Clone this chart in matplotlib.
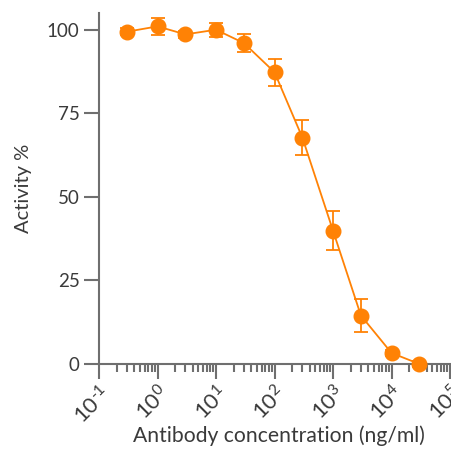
import matplotlib
matplotlib.use("Agg")
import matplotlib.pyplot as plt
from matplotlib.ticker import LogLocator, NullFormatter, FixedLocator
import numpy as np

concentration = [0.3, 1, 3, 10, 30, 100, 300, 1000, 3000, 10000, 30000]
activity = [99.4, 101.0, 98.6, 100.0, 96.0, 87.3, 67.7, 39.9, 14.5, 3.3, 0.0]
error = [1.0, 2.6, 1.0, 2.1, 2.8, 4.0, 5.3, 5.8, 4.9, 1.0, 1.0]
ytick_vals = [0, 25, 50, 75, 100]
xtick_exps = [-1, 0, 1, 2, 3, 4, 5]

plt.rcParams['font.family'] = ['Lato', 'DejaVu Sans']
plt.rcParams['mathtext.fontset'] = 'custom'
plt.rcParams['mathtext.rm'] = 'Lato'
plt.rcParams['mathtext.it'] = 'Lato'
plt.rcParams['mathtext.default'] = 'regular'

orange = '#FF8205'
axis_col = '#6f6f6f'
text_col = '#3a3a3a'

fig = plt.figure(figsize=(4.52, 4.49), dpi=100)
ax = fig.add_axes([99/452, 1-364/449, (450-99)/452, (364-13)/449])

ax.errorbar(concentration, activity, yerr=error, color=orange, marker='o',
            markersize=10.5, linewidth=1.3, elinewidth=1.3, capsize=5, capthick=1.3,
            clip_on=False, zorder=3)

ax.set_xscale('log')
ax.set_xlim(0.1, 1e5)
ax.set_ylim(0, 105)

ax.spines['top'].set_visible(False)
ax.spines['right'].set_visible(False)
for s in ['left', 'bottom']:
    ax.spines[s].set_color(axis_col)
    ax.spines[s].set_linewidth(1.5)

def exp_label(e):
    s = str(e).replace('-', '\u2010')
    return r'$10^{%s}$' % s

ax.xaxis.set_major_locator(FixedLocator([10.0**e for e in xtick_exps]))
ax.set_xticklabels([exp_label(e) for e in xtick_exps], rotation=45,
                   ha='right', rotation_mode='anchor')
ax.xaxis.set_minor_locator(LogLocator(base=10, subs=np.arange(2, 10), numticks=20))
ax.xaxis.set_minor_formatter(NullFormatter())
ax.set_yticks(ytick_vals)

ax.tick_params(axis='both', which='major', length=11, width=1.5, color=axis_col,
               labelsize=13.5, labelcolor=text_col, pad=3)
ax.tick_params(axis='x', which='major', labelsize=16, pad=2)
ax.tick_params(axis='x', which='minor', length=6, width=1.5, color=axis_col)

ax.set_xlabel('Antibody concentration (ng/ml)', fontsize=15.2, color=text_col, labelpad=-2)
ax.xaxis.label.set_x(0.514)
ax.set_ylabel('Activity %', fontsize=14.5, color=text_col, labelpad=11)

fig.savefig('out.png', dpi=100)
